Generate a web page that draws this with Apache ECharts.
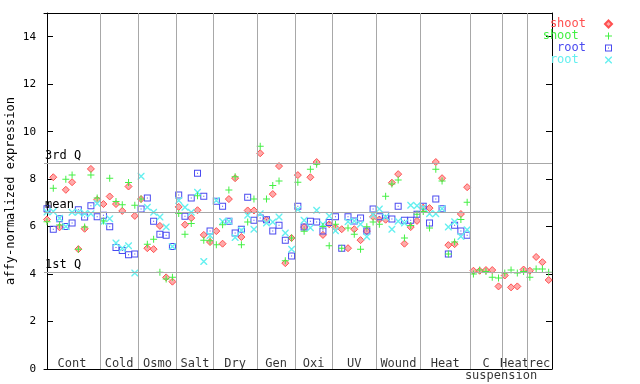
<!DOCTYPE html>
<html>
<head>
<meta charset="utf-8">
<script src="https://cdn.jsdelivr.net/npm/echarts@6/dist/echarts.min.js"></script>
<style>html,body{margin:0;padding:0;background:#fff;}#c{width:640px;height:384px;}</style>
</head>
<body>
<div id="c"></div>
<script>
// ---- data (x = sample slot index) ----
const shootRed = [
  6.3, 8.08, 5.97, 7.55, 7.87, 5.05, 5.91, 8.43, 7.13,
  6.95, 7.27, 6.95, 6.66, 7.69, 6.45,
  7.16, 5.09, 5.05, 6.03, 3.86, 3.68,
  6.83, 6.08, 6.36, 6.69, 5.65, 5.35,
  5.81, 5.28, 7.16, 8.04, 5.56, 6.68, 6.68,
  9.09, 6.29, 7.37, 8.55, 4.46, 5.52,
  8.17, 5.98, 8.08, 8.72, 5.65, 6.1,
  5.96, 5.89, 5.09, 5.89, 5.43, 5.81, 6.41,
  6.3, 6.29, 7.85, 8.21, 5.28, 5.98, 6.24,
  6.8, 6.78, 8.72, 8.04, 5.22, 5.26, 6.53, 7.66,
  4.14, 4.14, 4.17, 4.17, 3.48,
  3.94, 3.44, 3.48, 4.19,
  4.14, 4.72, 4.5, 3.75
];
const shootGreen = [
  6.2, 7.62, 6.07, 8.0, 8.17, 5.05, 5.98, 8.17, 7.2,
  6.24, 8.04, 7.06, 6.92, 7.86, 6.9,
  7.16, 5.26, 5.47, 4.08, 3.79, 3.87,
  6.55, 5.68, 6.13, 7.3, 5.43, 5.4,
  5.23, 6.08, 7.54, 8.1, 5.23, 6.19, 7.16,
  9.39, 7.16, 7.73, 7.92, 4.56, 5.52,
  7.87, 5.8, 8.42, 8.63, 6.0, 5.19,
  6.1, 5.09, 5.94, 5.68, 5.05, 5.99, 6.19,
  6.1, 7.28, 7.79, 7.96, 5.52, 6.05, 6.52,
  6.64, 5.94, 8.42, 7.92, 4.85, 5.35, 6.3, 7.03,
  4.0, 4.17, 4.11, 3.87, 3.83,
  4.04, 4.17, 4.04, 4.11,
  3.87, 4.21, 4.21, 4.08
];
const rootBlue = [
  6.75, 5.89, 6.33, 6.0, 6.15, 6.71, 6.4, 6.88, 6.41,
  6.48, 5.99, 5.12, 4.99, 4.81, 4.85,
  6.74, 7.2, 6.23, 5.68, 5.64, 5.16,
  7.33, 6.44, 7.2, 8.25, 7.28, 5.81,
  7.07, 6.86, 6.23, 5.73, 5.89, 7.24, 6.27,
  6.36, 6.29, 5.81, 6.06, 5.43, 4.76,
  6.86, 5.98, 6.23, 6.19, 5.81, 6.17,
  6.41, 5.09, 6.41, 6.24, 6.36, 5.81, 6.74,
  6.41, 6.48, 6.32, 6.86, 6.27, 6.27, 6.52,
  6.86, 6.15, 7.16, 6.75, 4.85, 6.06, 5.81, 5.64
];
const rootCyan = [
  6.61, 6.64, 6.35, 6.0, 6.6, 6.6, 6.55, 6.54, 6.97,
  6.2, 6.33, 5.31, 5.09, 5.19, 4.04,
  8.12, 6.82, 6.6, 6.4, 5.98, 5.16,
  7.1, 6.82, 6.6, 7.45, 4.53, 5.63,
  7.1, 6.22, 6.23, 5.54, 5.85, 6.48, 5.89,
  6.54, 6.15, 6.19, 6.4, 5.73, 5.05,
  6.72, 6.27, 5.95, 6.69, 6.1, 6.45,
  5.82, null, 6.2, 6.24, 6.1, 5.57, 6.5,
  6.74, 6.4, 5.89, 6.23, 6.15, 6.9, 6.88,
  6.8, 6.54, 6.54, 6.75, 5.98, 6.2, 5.58, 5.87
];
const groupNames = ['Cont','Cold','Osmo','Salt','Dry','Gen','Oxi','UV','Wound','Heat','C','Heat','rec'];
const groupBounds = [-0.48, 8.45, 14.55, 20.67, 26.5, 33.51, 39.57, 45.47, 52.54, 59.55, 67.46, 72.56, 76.54, 80.53];
const subLabel = {text: 'suspension', at: 72.4};
const quartileValues = [8.67, 6.61, 4.08];
const quartileNames = ['3rd Q', 'mean', '1st Q'];
const yTicks = {min: 0, max: 15, interval: 2};

// ---- styles ----
const FONT = 'DejaVu Sans Mono';
const C_RED = '#ff5050', C_GREEN = '#44f044', C_BLUE = '#4a4af0', C_CYAN = '#66f0f0';
const SYM_PLUS = 'path://M3,0H4V7H3ZM0,3H7V4H0Z';
const SYM_SQ = 'path://M0,0H7V7H0ZM1,1V6H6V1ZM3,3H4V4H3Z';
const SYM_X = 'path://M0,0L1,0L7,6L7,7L6,7L0,1ZM6,0L7,0L7,1L1,7L0,7L0,6Z';

function toPts(arr) {
  const out = [];
  arr.forEach((v, i) => { if (v != null) out.push([i, v]); });
  return out;
}

const labelData = groupNames.map((g, k) => ({
  value: [(groupBounds[k] + groupBounds[k + 1]) / 2, 0], name: g
}));
labelData.push({
  value: [subLabel.at, 0], name: subLabel.text,
  label: {offset: [0, 7]}
});

const markData = groupBounds.slice(1, -1).map(x => ({xAxis: x}));
quartileValues.forEach((v, k) => markData.push({
  yAxis: v,
  label: {show: true, formatter: quartileNames[k], position: 'insideStartTop', distance: [1, 1],
          color: '#000', fontFamily: FONT, fontSize: 12}
}));

const chart = echarts.init(document.getElementById('c'), null, {renderer: 'canvas'});
chart.setOption({
  animation: false,
  backgroundColor: '#fff',
  grid: {left: 44, right: 88, top: 13, bottom: 15, containLabel: false, outerBoundsMode: 'none'},
  xAxis: [{
    type: 'value', min: groupBounds[0], max: groupBounds[groupBounds.length - 1],
    axisLine: {show: true, lineStyle: {color: '#000', width: 1}},
    axisTick: {show: false}, axisLabel: {show: false}, splitLine: {show: false}
  }, {
    type: 'value', position: 'top', min: groupBounds[0], max: groupBounds[groupBounds.length - 1],
    axisLine: {show: true, onZero: false, lineStyle: {color: '#000', width: 1}},
    axisTick: {show: false}, axisLabel: {show: false}, splitLine: {show: false}
  }],
  yAxis: [{
    type: 'value', min: yTicks.min, max: yTicks.max, interval: yTicks.interval,
    name: 'affy-normalized expression', nameLocation: 'middle', nameGap: 27, nameMoveOverlap: false,
    nameTextStyle: {fontFamily: FONT, fontSize: 12, color: '#000'},
    axisLine: {show: true, lineStyle: {color: '#000', width: 1}},
    axisTick: {show: true, inside: true, length: 6, lineStyle: {color: '#000'}},
    axisLabel: {fontFamily: FONT, fontSize: 11, color: '#000', margin: 8, showMaxLabel: false},
    splitLine: {show: false}
  }, {
    type: 'value', position: 'right', min: yTicks.min, max: yTicks.max, interval: yTicks.interval,
    axisLine: {show: true, onZero: false, lineStyle: {color: '#000', width: 1}},
    axisTick: {show: true, inside: true, length: 6, lineStyle: {color: '#000'}},
    axisLabel: {show: false}, splitLine: {show: false}
  }],
  legend: {
    orient: 'vertical', right: 27, top: 18, padding: 0, itemGap: 0,
    align: 'right', itemWidth: 7, itemHeight: 7, selectedMode: false,
    textStyle: {fontFamily: FONT, fontSize: 12, lineHeight: 11, padding: [0, 14, 0, 0]},
    data: [
      {name: 'shoot', textStyle: {color: C_RED}},
      {name: 'shoot ', textStyle: {color: C_GREEN}},
      {name: 'root', textStyle: {color: C_BLUE}},
      {name: 'root ', textStyle: {color: C_CYAN}}
    ]
  },
  series: [
    {
      type: 'scatter', name: 'groups', z: 1, silent: true, symbolSize: 0,
      data: labelData,
      label: {show: true, formatter: '{b}', position: 'inside', offset: [0, -5],
              fontFamily: FONT, fontSize: 12, color: '#000'},
      markLine: {
        silent: true, symbol: 'none', animation: false,
        lineStyle: {color: '#a8a8a8', type: 'solid', width: 1},
        label: {show: false},
        emphasis: {disabled: true},
        data: markData
      }
    },
    {type: 'scatter', name: 'shoot', z: 3, symbol: 'diamond', symbolSize: 7,
     itemStyle: {color: '#ffaaaa', borderColor: C_RED, borderWidth: 1, opacity: 1},
     data: toPts(shootRed)},
    {type: 'scatter', name: 'shoot ', z: 4, symbol: SYM_PLUS, symbolSize: 7,
     itemStyle: {color: C_GREEN, opacity: 1}, data: toPts(shootGreen)},
    {type: 'scatter', name: 'root', z: 3, symbol: SYM_SQ, symbolSize: 7,
     itemStyle: {color: C_BLUE, opacity: 1}, data: toPts(rootBlue)},
    {type: 'scatter', name: 'root ', z: 3, symbol: SYM_X, symbolSize: 7,
     itemStyle: {color: C_CYAN, opacity: 1}, data: toPts(rootCyan)}
  ]
});
</script>
</body>
</html>
